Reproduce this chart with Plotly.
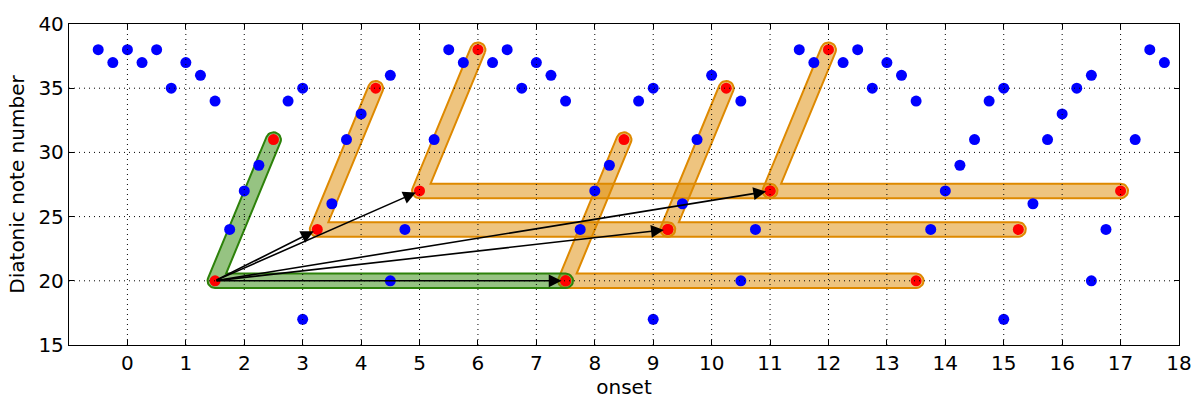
import numpy as np
import plotly.graph_objects as go

# Notes of the piece: onset (beats) and diatonic pitch
note_onsets = [-0.5, -0.25, 0.0, 0.25, 0.5, 0.75, 1.0, 1.25, 1.5,
               1.75, 2.0, 2.25, 2.75, 3.0, 3.0, 3.5, 3.75, 4.0, 4.5, 4.5,
               4.75, 5.25, 5.5, 5.75, 6.25, 6.5, 6.75, 7.0, 7.25, 7.5,
               7.75, 8.0, 8.25, 8.75, 9.0, 9.0, 9.5, 9.75, 10.0, 10.5, 10.5,
               10.75, 11.5, 11.75, 12.25, 12.5, 12.75, 13.0, 13.25, 13.5,
               13.75, 14.0, 14.25, 14.5, 14.75, 15.0, 15.0, 15.5, 15.75,
               16.0, 16.25, 16.5, 16.5, 16.75, 17.25, 17.5, 17.75]
note_pitches = [38, 37, 38, 37, 38, 35, 37, 36, 34,
                24, 27, 29, 34, 35, 17, 26, 31, 33, 36, 20,
                24, 31, 38, 37, 37, 38, 35, 37, 36, 34,
                24, 27, 29, 34, 35, 17, 26, 31, 36, 34, 20,
                24, 38, 37, 37, 38, 35, 37, 36, 34,
                24, 27, 29, 31, 34, 35, 17, 26, 31,
                33, 35, 36, 20, 24, 31, 38, 37]

# Pattern (three points) and the translations at which it recurs
pattern_onsets = [2.5, 1.5, 7.5]
pattern_pitches = [31, 20, 20]
shift_onsets = [1.75, 3.5, 6.0, 7.75, 9.5]
shift_pitches = [4, 7, 0, 4, 7]

x_ticks = list(range(0, 19))
y_ticks = [15, 20, 25, 30, 35, 40]
x_range = [-1, 18]
y_range = [15, 40]

W, H = 1204, 405
M = dict(l=69, r=24, t=12, b=60)
sx = (W - M["l"] - M["r"]) / (x_range[1] - x_range[0])
sy = (H - M["t"] - M["b"]) / (y_range[1] - y_range[0])
FONT = "DejaVu Sans"


def _arc(c, a0, sweep, r, k=14):
    t = np.linspace(0, sweep, k)
    return [(c[0] + r * np.cos(a0 - s), c[1] + r * np.sin(a0 - s)) for s in t]


def band_outline(xs, ys, r):
    """Outline of a round-capped, round-joined thick stroke along a polyline,
    built in screen pixels and mapped back to data units."""
    P = np.array([[x * sx, y * sy] for x, y in zip(xs, ys)], float)
    d = [(P[i + 1] - P[i]) / np.linalg.norm(P[i + 1] - P[i]) for i in range(len(P) - 1)]
    n = [np.array([-v[1], v[0]]) for v in d]
    ang = lambda v: np.arctan2(v[1], v[0])
    out = [tuple(P[0] + r * n[0])]
    for i in range(1, len(P) - 1):
        cr = d[i - 1][0] * d[i][1] - d[i - 1][1] * d[i][0]
        th = np.arctan2(abs(cr), np.dot(d[i - 1], d[i]))
        if cr > 0:
            m = (n[i - 1] + n[i]) / (1 + np.dot(n[i - 1], n[i]))
            out.append(tuple(P[i] + r * m))
        else:
            out += _arc(P[i], ang(n[i - 1]), th, r)
    out.append(tuple(P[-1] + r * n[-1]))
    out += _arc(P[-1], ang(n[-1]), np.pi, r)
    for i in range(len(P) - 2, 0, -1):
        cr = d[i - 1][0] * d[i][1] - d[i - 1][1] * d[i][0]
        th = np.arctan2(abs(cr), np.dot(d[i - 1], d[i]))
        if cr > 0:
            out += _arc(P[i], ang(-n[i]), th, r)
        else:
            m = (n[i - 1] + n[i]) / (1 + np.dot(n[i - 1], n[i]))
            out.append(tuple(P[i] - r * m))
    out.append(tuple(P[0] - r * n[0]))
    out += _arc(P[0], ang(-n[0]), np.pi, r)
    bx = [p[0] / sx for p in out]
    by = [p[1] / sy for p in out]
    return bx, by


fig = go.Figure()
R = 7.5

# Translated occurrences of the pattern
red_x, red_y = list(pattern_onsets), list(pattern_pitches)
for dx, dy in zip(shift_onsets, shift_pitches):
    ox = [v + dx for v in pattern_onsets]
    oy = [v + dy for v in pattern_pitches]
    red_x += ox
    red_y += oy
    bx, by = band_outline(ox, oy, R)
    fig.add_trace(go.Scatter(x=bx, y=by, mode="lines", fill="toself",
                             fillcolor="rgba(222,137,0,0.5)",
                             line=dict(color="rgb(222,137,0)", width=2),
                             hoverinfo="skip", showlegend=False))

# The pattern itself
bx, by = band_outline(pattern_onsets, pattern_pitches, R)
fig.add_trace(go.Scatter(x=bx, y=by, mode="lines", fill="toself",
                         fillcolor="rgba(45,135,5,0.5)",
                         line=dict(color="rgb(45,130,10)", width=2),
                         hoverinfo="skip", showlegend=False))

fig.add_trace(go.Scatter(x=note_onsets, y=note_pitches, mode="markers",
                         marker=dict(color="#0000ff", size=11, line=dict(width=0)),
                         showlegend=False))
fig.add_trace(go.Scatter(x=red_x, y=red_y, mode="markers",
                         marker=dict(color="#ff0000", size=11, line=dict(width=0)),
                         showlegend=False))

# Translation vectors from the pattern's anchor point
x0, y0 = pattern_onsets[1], pattern_pitches[1]
for dx, dy in zip(shift_onsets, shift_pitches):
    fig.add_annotation(x=x0 + dx, y=y0 + dy, ax=x0, ay=y0,
                       xref="x", yref="y", axref="x", ayref="y",
                       text="", showarrow=True, arrowhead=2, arrowsize=1.6,
                       arrowwidth=1.6, arrowcolor="black", standoff=4)

# Dotted grid drawn on top of the marks
grid = dict(color="black", width=1, dash="1px,4px")
for v in x_ticks[:-1]:
    fig.add_shape(type="line", x0=v, x1=v, y0=y_range[0], y1=y_range[1],
                  xref="x", yref="y", line=grid, layer="above")
for h in y_ticks[1:-1]:
    fig.add_shape(type="line", x0=x_range[0], x1=x_range[1], y0=h, y1=h,
                  xref="x", yref="y", line=grid, layer="above")

axis_common = dict(showgrid=False, zeroline=False, showline=True, mirror="ticks",
                   linecolor="black", linewidth=1.3, ticks="inside", ticklen=5,
                   tickcolor="black", tickwidth=1,
                   tickfont=dict(family=FONT, size=20, color="black"))

fig.update_layout(
    width=W, height=H, margin=M,
    paper_bgcolor="white", plot_bgcolor="white",
    font=dict(family=FONT, size=20, color="black"),
    xaxis=dict(range=x_range, tickvals=x_ticks, ticktext=[str(v) for v in x_ticks],
               title=dict(text="onset", standoff=4,
                          font=dict(family=FONT, size=20)),
               **axis_common),
    yaxis=dict(range=y_range, tickvals=y_ticks, ticktext=[str(v) for v in y_ticks],
               title=dict(text="Diatonic note number", standoff=8,
                          font=dict(family=FONT, size=20)),
               **axis_common),
)

fig.write_html("out.html")
